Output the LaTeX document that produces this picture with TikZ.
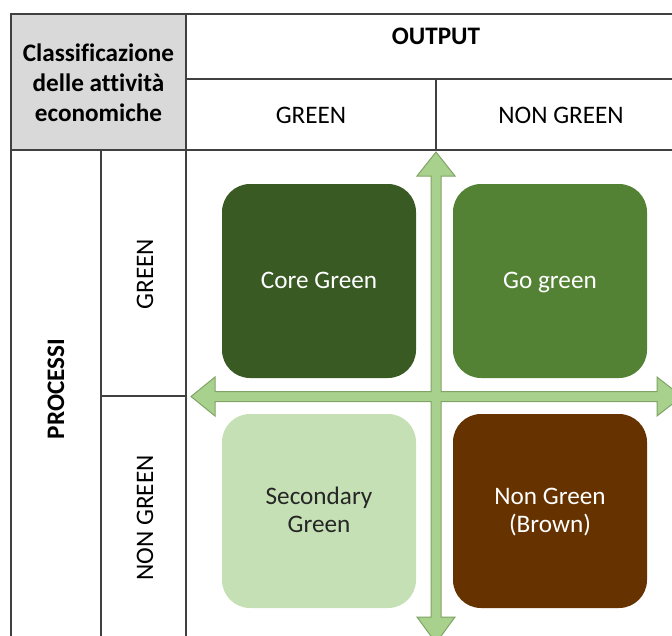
\documentclass[tikz,border=0pt]{standalone}
\usepackage{fontspec}
\setmainfont{Carlito}[Ligatures=NoCommon]
\definecolor{linegray}{HTML}{404040}
\definecolor{headgray}{HTML}{D9D9D9}
\definecolor{coregreen}{HTML}{3A5A24}
\definecolor{gogreen}{HTML}{548235}
\definecolor{secgreen}{HTML}{C5E0B4}
\definecolor{brownish}{HTML}{663300}
\definecolor{arrowfill}{HTML}{A9D18E}
\definecolor{arrowline}{HTML}{7FA464}
\definecolor{darktext}{HTML}{262626}
\begin{document}
\begin{tikzpicture}[x=1pt,y=-1pt,
  grid/.style={draw=linegray,line width=1.6pt},
  txt/.style={font=\fontsize{25.2}{29}\selectfont,align=center,inner sep=0pt,text=black},
  btxt/.style={txt,font=\fontsize{25.2}{30}\selectfont\bfseries},
  quad/.style={rounded corners=28pt,minimum width=194pt,minimum height=194pt,inner sep=0pt},
  qtxt/.style={inner sep=0pt,align=center,font=\fontsize{25.2}{28.5}\selectfont}]
\useasboundingbox (0,0) rectangle (672,635);
\clip (0,0) rectangle (672,635);
% table
\fill[headgray] (11,14) rectangle (186,150);
\draw[grid] (11,14) -- (700,14);
\draw[grid] (186,79) -- (700,79);
\draw[grid] (11,150) -- (700,150);
\draw[grid] (101,396) -- (186,396);
\draw[grid] (11,13.2) -- (11,640);
\draw[grid] (186,14) -- (186,640);
\draw[grid] (101,150) -- (101,640);
\draw[grid] (436,79) -- (436,150);
% header texts
\node[btxt] (classif) at (98.5,83) {Classificazione\\delle attività\\economiche};
\node[btxt] (output) at (436,36) {OUTPUT};
\node[txt] (og) at (311,115.5) {GREEN};
\node[txt] (ong) at (561,115.5) {NON GREEN};
\node[btxt,rotate=90] (proc) at (56,389) {PROCESSI};
\node[txt,rotate=90] (pg) at (145,274) {GREEN};
\node[txt,rotate=90] (png) at (145,518) {NON GREEN};
% arrows cross
\draw[fill=arrowfill,draw=arrowline,line width=1pt,line join=miter]
  (191,396.5) -- (215,377) -- (215,391.5) -- (431,391.5) -- (431,176) -- (417,176)
  -- (436,152) -- (455,176) -- (441,176) -- (441,391.5) -- (657,391.5) -- (657,377)
  -- (682,396.5) -- (657,416) -- (657,401.5) -- (441,401.5) -- (441,617) -- (455,617)
  -- (436,643) -- (417,617) -- (431,617) -- (431,401.5) -- (215,401.5) -- (215,416) -- cycle;
% quadrants
\node[quad,fill=coregreen] (core) at (319,281) {};
\node[quad,fill=gogreen] (go) at (550,281) {};
\node[quad,fill=secgreen] (sec) at (319,511) {};
\node[quad,fill=brownish] (brown) at (550,511) {};
\node[qtxt,text=white] (coret) at ([yshift=-2pt]core.center) {\strut Core Green};
\node[qtxt,text=white] (got) at ([yshift=-2pt]go.center) {\strut Go green};
\node[qtxt,text=darktext] (sect) at ([yshift=-2pt]sec.center) {\strut Secondary\\\strut Green};
\node[qtxt,text=white] (brownt) at ([yshift=-2pt]brown.center) {\strut Non Green\\\strut (Brown)};
\end{tikzpicture}
\end{document}
